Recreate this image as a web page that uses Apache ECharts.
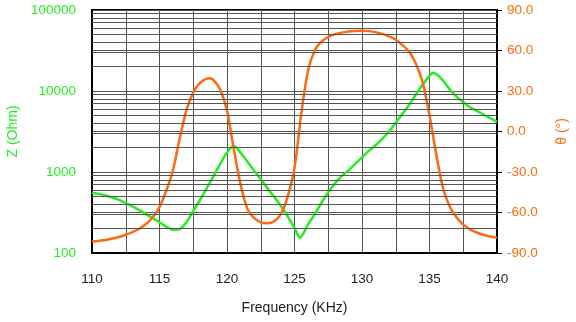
<!DOCTYPE html>
<html>
<head>
<meta charset="utf-8">
<script src="https://cdn.jsdelivr.net/npm/echarts@6/dist/echarts.min.js"></script>
<style>
  html, body { margin: 0; padding: 0; background: #fff; }
  #chart { width: 576px; height: 322px; }
</style>
</head>
<body>
<div id="chart"></div>
<script>
// Impedance magnitude |Z| (Ohm) against frequency (kHz)
const zFreq = [110, 110.5, 111, 111.5, 112, 112.5, 113, 113.5, 114, 114.5, 115, 115.5, 116, 116.5, 117, 117.5, 118, 118.5, 119, 119.5, 120, 120.5, 121, 121.5, 122, 122.5, 123, 123.5, 124, 124.5, 125, 125.4, 126, 126.5, 127, 127.5, 128, 128.5, 129, 129.5, 130, 130.5, 131, 131.5, 132, 132.5, 133, 133.5, 134, 134.5, 135, 135.3, 135.6, 136, 136.5, 137, 137.5, 138, 138.5, 139, 139.5, 140];
const zValues = [556, 537, 513, 484, 452, 414, 376, 339, 302, 269, 240, 211, 194, 197, 240, 331, 451, 631, 891, 1259, 1738, 2089, 1738, 1349, 1047, 813, 631, 490, 380, 282, 204, 155, 224, 302, 417, 562, 724, 891, 1047, 1259, 1514, 1820, 2138, 2570, 3162, 4074, 5248, 6761, 9120, 12020, 15490, 16830, 15800, 13500, 10470, 8511, 7244, 6310, 5690, 5129, 4624, 4169];

// Phase angle θ (degrees) against frequency (kHz)
const phFreq = [110, 110.5, 111, 111.5, 112, 112.5, 113, 113.5, 114, 114.5, 115, 115.5, 116, 116.5, 117, 117.5, 118, 118.5, 118.7, 119, 119.5, 120, 120.5, 121, 121.5, 122, 122.5, 123, 123.5, 124, 124.5, 125, 125.5, 126, 126.5, 127, 127.5, 128, 129, 130, 131, 132, 132.5, 133, 133.5, 134, 134.5, 135, 135.5, 136, 136.5, 137, 137.5, 138, 138.5, 139, 139.5, 140];
const phValues = [-81.6, -81, -80.3, -79.3, -78.2, -76.5, -74.5, -72, -68.5, -63.5, -56, -44, -28.5, -5, 16, 29, 36, 39.2, 39.4, 38, 31, 15.5, -13, -39, -57, -64, -67.3, -68, -66.5, -61, -48, -27, 13, 45, 60, 66.5, 70, 72, 74, 74.7, 73.6, 70.5, 68, 64, 59, 50, 36, 12, -17, -42, -55.5, -63.5, -69, -72.5, -74.8, -76.5, -77.8, -78.7];

// Minor decade gridlines of the log axis
const zMinorGrid = [200, 300, 400, 500, 600, 700, 800, 900, 2000, 3000, 4000, 5000, 6000, 7000, 8000, 9000, 20000, 30000, 40000, 50000, 60000, 70000, 80000, 90000];

const GREEN = '#22ee22';
const ORANGE = '#ff6a10';
const GRID_COLOR = '#555555';
const FONT = "'Liberation Sans', Arial, sans-serif";

const chart = echarts.init(document.getElementById('chart'), null, { renderer: 'canvas' });

chart.setOption({
  animation: false,
  backgroundColor: '#ffffff',
  grid: {
    left: 92, right: 79, top: 10, bottom: 69,
    containLabel: false,
    outerBoundsMode: 'none',
    show: true, borderColor: '#000', borderWidth: 2, backgroundColor: 'transparent'
  },
  xAxis: {
    type: 'value',
    min: 110, max: 140, interval: 2.5,
    name: 'Frequency (KHz)',
    nameLocation: 'middle',
    nameGap: 48,
    nameTextStyle: { fontFamily: FONT, fontSize: 14, color: '#222' },
    axisLine: { show: true, onZero: false, lineStyle: { color: '#000', width: 2 } },
    axisTick: { show: false },
    axisLabel: {
      margin: 19, fontFamily: FONT, fontSize: 13.5, color: '#222',
      formatter: v => (v % 5 === 0 ? String(v) : '')
    },
    splitLine: { show: true, lineStyle: { color: GRID_COLOR, width: 1 } }
  },
  yAxis: [
    {
      type: 'log', logBase: 10, min: 100, max: 100000,
      position: 'left',
      name: 'Z (Ohm)',
      nameLocation: 'middle',
      nameGap: 72,
      nameRotate: 90,
      nameTextStyle: { fontFamily: FONT, fontSize: 14, color: GREEN },
      axisLine: { show: true, onZero: false, lineStyle: { color: '#000', width: 2 } },
      axisTick: { show: false },
      axisLabel: { margin: 16, fontFamily: FONT, fontSize: 13.5, color: GREEN, formatter: v => String(Math.round(v)) },
      splitLine: { show: true, lineStyle: { color: GRID_COLOR, width: 1 } }
    },
    {
      type: 'value', min: -90, max: 90, interval: 30,
      position: 'right',
      name: 'θ (°)',
      nameLocation: 'middle',
      nameGap: 58,
      nameRotate: 90,
      nameTextStyle: { fontFamily: FONT, fontSize: 14, color: ORANGE },
      axisLine: { show: true, onZero: false, lineStyle: { color: '#000', width: 2 } },
      axisTick: { show: true, inside: false, length: 5, lineStyle: { color: '#000' } },
      axisLabel: { margin: 10, fontFamily: FONT, fontSize: 13.5, color: ORANGE, formatter: v => v.toFixed(1) },
      splitLine: { show: true, lineStyle: { color: GRID_COLOR, width: 1 } }
    }
  ],
  series: [
    {
      name: 'Z',
      type: 'line',
      yAxisIndex: 0,
      data: zFreq.map((f, i) => [f, zValues[i]]),
      smooth: 0.3,
      showSymbol: false,
      lineStyle: { color: GREEN, width: 2.5 },
      z: 3,
      markLine: {
        silent: true,
        symbol: ['none', 'none'],
        label: { show: false },
        lineStyle: { color: GRID_COLOR, width: 1, type: 'solid' },
        data: zMinorGrid.map(v => ({ yAxis: v }))
      }
    },
    {
      name: 'θ',
      type: 'line',
      yAxisIndex: 1,
      data: phFreq.map((f, i) => [f, phValues[i]]),
      smooth: 0.3,
      showSymbol: false,
      lineStyle: { color: ORANGE, width: 2.5 },
      z: 4
    }
  ]
});
</script>
</body>
</html>
